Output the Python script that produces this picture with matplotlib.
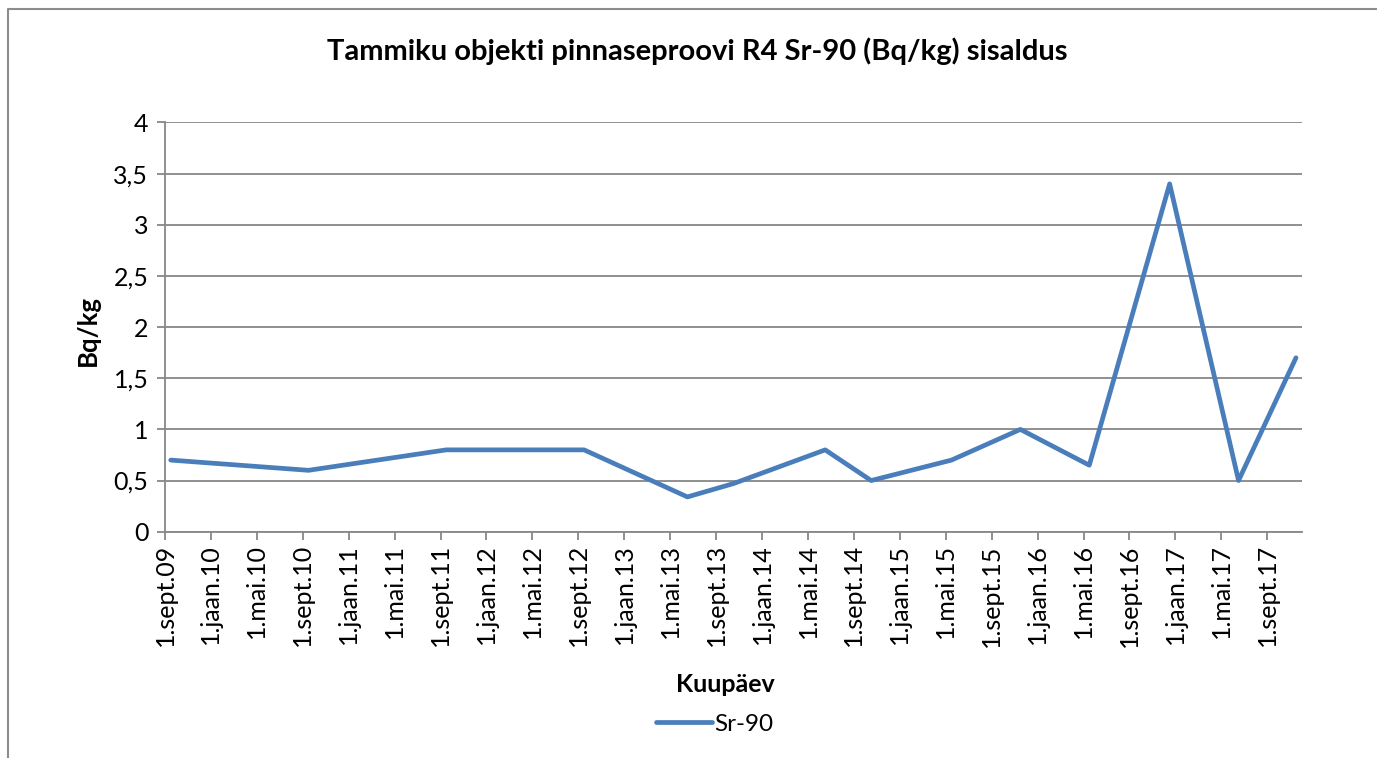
import matplotlib
matplotlib.use("Agg")
import matplotlib.pyplot as plt
from matplotlib.lines import Line2D
import pandas as pd

# ---- data ----
dates = ["2009-09", "2010-09", "2011-09", "2012-09", "2013-06", "2013-10",
         "2014-06", "2014-10", "2015-05", "2015-11", "2016-05", "2016-12",
         "2017-06", "2017-11"]
sr90 = [0.7, 0.6, 0.8, 0.8, 0.34, 0.47, 0.8, 0.5, 0.7, 1.0, 0.65, 3.4, 0.5, 1.7]

tick_labels = ["1.sept.09", "1.jaan.10", "1.mai.10", "1.sept.10", "1.jaan.11",
               "1.mai.11", "1.sept.11", "1.jaan.12", "1.mai.12", "1.sept.12",
               "1.jaan.13", "1.mai.13", "1.sept.13", "1.jaan.14", "1.mai.14",
               "1.sept.14", "1.jaan.15", "1.mai.15", "1.sept.15", "1.jaan.16",
               "1.mai.16", "1.sept.16", "1.jaan.17", "1.mai.17", "1.sept.17"]
yticks = [0, 0.5, 1, 1.5, 2, 2.5, 3, 3.5, 4]
ytick_labels = ["0", "0,5", "1", "1,5", "2", "2,5", "3", "3,5", "4"]

title = "Tammiku objekti pinnaseproovi R4 Sr-90 (Bq/kg) sisaldus"
xlabel = "Kuupäev"
ylabel = "Bq/kg"
series_name = "Sr-90"

# ---- month-based axis (Excel base unit: months) ----
start = pd.Period("2009-09", freq="M")
month_idx = [(pd.Period(d, freq="M") - start).n for d in dates]
x = [m + 0.5 for m in month_idx]          # points in the middle of the month slot
tick_pos = [4 * i for i in range(len(tick_labels))]
x_max = month_idx[-1] + 1

plt.rcParams['font.family'] = ['Lato', 'DejaVu Sans']

W, H = 1377, 758
fig = plt.figure(figsize=(W / 100, H / 100), dpi=100)
fig.patch.set_facecolor("white")

left, right, top, bottom = 165, 1301.7, 122.5, 531.7
ax = fig.add_axes([left / W, 1 - bottom / H, (right - left) / W, (bottom - top) / H])

line_color = "#4A7EBB"
grid_color = "#878787"

ax.plot(x, sr90, color=line_color, linewidth=3.4, solid_joinstyle="round",
        solid_capstyle="round", label=series_name, zorder=3)

ax.set_xlim(0, x_max)
ax.set_ylim(0, 4)
ax.set_yticks(yticks)
ax.set_yticklabels(ytick_labels)
ax.set_xticks(tick_pos)
ax.set_xticklabels(tick_labels, rotation=90, ha="center", va="top")

ax.yaxis.grid(True, color=grid_color, linewidth=1.3)
ax.set_axisbelow(True)
for s in ["top", "right"]:
    ax.spines[s].set_visible(False)
for s in ["left", "bottom"]:
    ax.spines[s].set_color(grid_color)
    ax.spines[s].set_linewidth(1.3)

ax.tick_params(axis="both", direction="out", length=6, width=1.3, color=grid_color,
               labelsize=18, labelcolor="black")
ax.tick_params(axis="y", pad=6)
ax.tick_params(axis="x", pad=3)

fig.text(697 / W, 1 - 51 / H, title, ha="center", va="center",
         fontsize=21, fontweight="bold")
fig.text(88 / W, 1 - 331 / H, ylabel, ha="center", va="center", rotation=90,
         fontsize=18.5, fontweight="bold")
fig.text(725 / W, 1 - 685 / H, xlabel, ha="center", va="center",
         fontsize=18, fontweight="bold")

handle = Line2D([], [], color=line_color, linewidth=3.4, solid_capstyle="round")
fig.legend([handle], [series_name], loc="center left",
           bbox_to_anchor=(656 / W, 1 - 724 / H), frameon=False,
           fontsize=17.5, handlelength=2.3, handletextpad=0.1,
           borderpad=0, borderaxespad=0)

# outer chart border (top and left visible)
border_color = "#8C8C8C"
fig.add_artist(Line2D([8 / W, 8 / W, 1.01], [-0.01, 1 - 9.3 / H, 1 - 9.3 / H],
                      transform=fig.transFigure, color=border_color, linewidth=1.5))

fig.savefig("out.png", dpi=100, facecolor="white")
